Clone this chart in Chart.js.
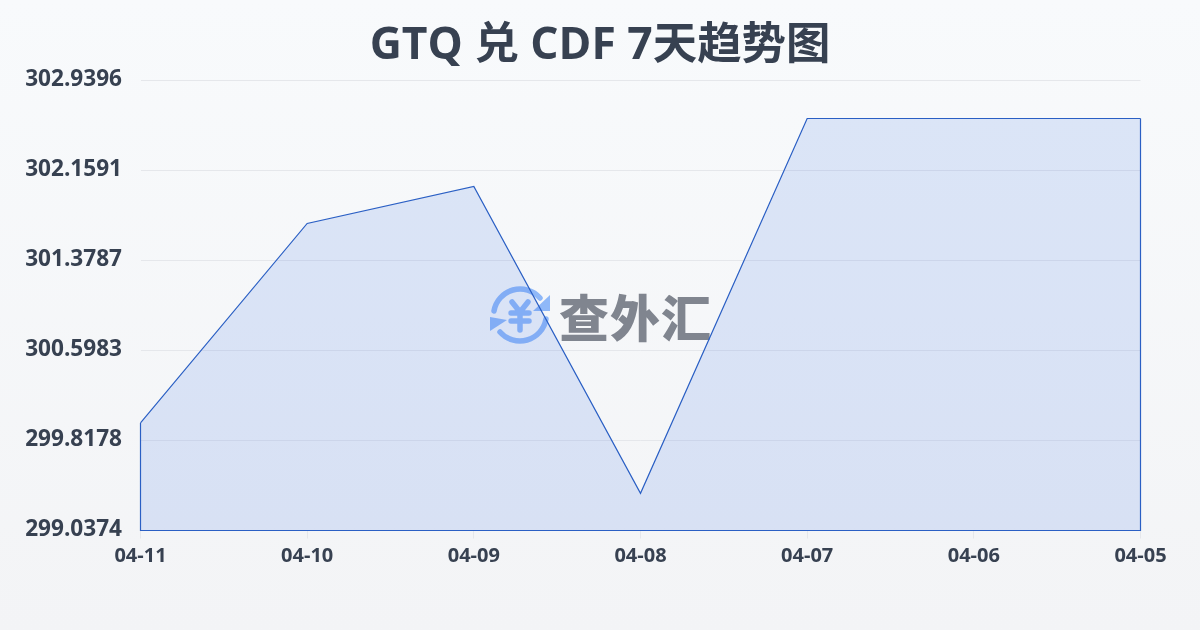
<!DOCTYPE html>
<html lang="zh">
<head>
<meta charset="utf-8">
<title>GTQ 兑 CDF 7天趋势图</title>
<script src="https://cdn.jsdelivr.net/npm/chart.js@4/dist/chart.umd.min.js"></script>
<style>
html, body { margin: 0; padding: 0; }
body { width: 1200px; height: 630px; overflow: hidden; background: linear-gradient(180deg, #f8fafc 0%, #f3f4f6 100%); position: relative; }
#wrap { position: absolute; left: 0; top: 0; width: 1200px; height: 630px; }
#mark { position: absolute; left: 488px; top: 284px; width: 232px; height: 62px; }
#mark svg { position: absolute; left: 0; top: 0; }
#mark span { position: absolute; left: 71px; top: 0; font: 900 50px/62px "Noto Sans CJK SC", sans-serif; color: #80858f; white-space: nowrap; letter-spacing: 1px; }
</style>
</head>
<body>
<div id="mark">
    <svg width="64" height="62" viewBox="0 0 64 62" fill="none" stroke="#8fb8f8" stroke-width="5.5" stroke-linecap="round">
        <path d="M6 27 A26.5 26.5 0 0 1 52 14"/>
        <path d="M58 35 A26.5 26.5 0 0 1 12 48"/>
        <path d="M62 11 L62 27 L45 27 Z" fill="#8fb8f8" stroke="none"/>
        <path d="M2 33 L19 36 L2 47 Z" fill="#8fb8f8" stroke="none"/>
        <path d="M24 18 L32 28 L40 18 M23 29 H41 M23 37 H41 M32 28 V46"/>
    </svg>
    <span>查外汇</span>
</div>
<div id="wrap"><canvas id="chart" width="1200" height="630"></canvas></div>
<script>
const categories = ['04-11', '04-10', '04-09', '04-08', '04-07', '04-06', '04-05'];
const rates = [299.97, 301.70, 302.02, 299.36, 302.61, 302.61, 302.61];
const yTicks = [299.0374, 299.8178, 300.5983, 301.3787, 302.1591, 302.9396];

const textColor = '#374151';
const lineColor = '#2a5fc4';
const fontFamily = '"Open Sans", "Noto Sans CJK SC", sans-serif';

// closes the area outline down the sides and along the bottom
const outlinePlugin = {
    id: 'outline',
    afterDatasetsDraw(chart) {
        const pts = chart.getDatasetMeta(0).data;
        const bottom = chart.scales.y.bottom;
        const ctx = chart.ctx;
        ctx.save();
        ctx.strokeStyle = lineColor;
        ctx.lineWidth = 1.2;
        ctx.beginPath();
        ctx.moveTo(pts[0].x, pts[0].y);
        ctx.lineTo(pts[0].x, bottom);
        ctx.lineTo(pts[pts.length - 1].x, bottom);
        ctx.lineTo(pts[pts.length - 1].x, pts[pts.length - 1].y);
        ctx.stroke();
        ctx.restore();
    }
};

new Chart(document.getElementById('chart'), {
    type: 'line',
    data: {
        labels: categories,
        datasets: [{
            data: rates,
            borderColor: lineColor,
            borderWidth: 1.2,
            backgroundColor: 'rgba(58, 112, 225, 0.15)',
            fill: 'start',
            tension: 0,
            pointRadius: 0
        }]
    },
    options: {
        responsive: false,
        animation: false,
        plugins: {
            legend: { display: false },
            tooltip: { enabled: false },
            title: {
                display: true,
                text: 'GTQ 兑 CDF 7天趋势图',
                color: textColor,
                font: { family: fontFamily, size: 44.4, weight: '700', lineHeight: 1.2 },
                padding: { top: 20, bottom: 7.2 }
            }
        },
        scales: {
            x: {
                offset: false,
                grid: { display: true, drawOnChartArea: false, drawTicks: true, tickLength: 8, color: '#e5e7eb' },
                border: { display: false },
                ticks: {
                    color: textColor,
                    padding: 6,
                    maxRotation: 0,
                    autoSkip: false,
                    font: { family: fontFamily, size: 20, weight: '700' }
                },
                afterFit(scale) { scale.height = 99.5; }
            },
            y: {
                min: yTicks[0],
                max: yTicks[yTicks.length - 1],
                afterBuildTicks(scale) { scale.ticks = yTicks.map(v => ({ value: v })); },
                grid: { color: '#e5e7eb', drawTicks: false },
                border: { display: false },
                ticks: {
                    color: textColor,
                    padding: 18.5,
                    labelOffset: -1,
                    font: { family: fontFamily, size: 22.6, weight: '700' },
                    callback: v => v.toFixed(4)
                },
                afterFit(scale) { scale.width = 140.5; }
            },
            // empty right axis keeps the plot off the right edge while the title stays centred on the page
            spacer: {
                position: 'right',
                grid: { display: false },
                border: { display: false },
                ticks: { display: false },
                afterFit(scale) { scale.width = 59.5; }
            }
        }
    },
    plugins: [outlinePlugin]
});
</script>
</body>
</html>
